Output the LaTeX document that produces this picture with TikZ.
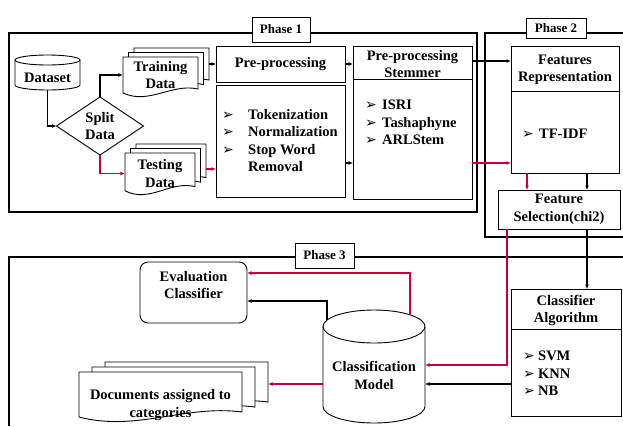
\documentclass[tikz,border=0pt]{standalone}
\usepackage{fontspec}
\setmainfont{Liberation Serif}
\newfontfamily\arrowfont{DejaVu Sans}
\usetikzlibrary{shapes.geometric,arrows.meta}
\definecolor{linkred}{RGB}{200,0,55}

% punkt i en liste
\newcommand{\itm}[1][17pt]{\makebox[#1][l]{\arrowfont\fontsize{14}{14}\selectfont ➢}}
% et ark med boelget bund: x, y (oeverst venstre), bredde, hoejde
\newcommand{\sheet}[4]{%
  \draw[box] ({#1},{#2}) -- ++(#3,0) -- ++(0,{-0.8*#4})
    .. controls +({-0.35*#3},{0.15*#4}) and +({0.35*#3},{-0.3*#4}) .. ({#1},{#2-0.9*#4}) -- cycle;}
% tre ark i en stak: x, y, bredde, hoejde, dx, dy
\newcommand{\sheets}[6]{%
  \sheet{#1+2*#5}{#2+2*#6}{#3}{#4}
  \sheet{#1+#5}{#2+#6}{#3}{#4}
  \sheet{#1}{#2}{#3}{#4}}

\tikzset{
  txt/.style={font=\bfseries\fontsize{14.5}{17.5}\selectfont, align=center, inner sep=0},
  box/.style={draw, line width=0.9pt, fill=white, inner sep=0, outer sep=0},
  frame/.style={line width=1.1pt},
  phase/.style={draw, line width=0.9pt, fill=white, inner sep=0, font=\bfseries\fontsize{13}{15}\selectfont},
  arr/.style={line width=1.2pt, -{Latex[length=4.5pt,width=4pt]}},
  redarr/.style={arr, linkred},
}

\begin{document}
\begin{tikzpicture}[x=1pt,y=1pt]
  \useasboundingbox (0,0) rectangle (623,-426);

  %rammer for faserne
  	\draw[frame] (9,-33) rectangle (477,-212);
  	\draw[frame] (623,-33) -- (485,-33) -- (485,-237) -- (623,-237);
  	\draw[frame] (623,-257) -- (9,-257) -- (9,-426);
  	\node[phase, minimum width=58, minimum height=25] (ph1) at (281,-29.5) {Phase 1};
  	\node[phase, minimum width=60, minimum height=20] (ph2) at (556,-28) {Phase 2};
  	\node[phase, minimum width=59, minimum height=25] (ph3) at (324.5,-255.5) {Phase 3};

  %dataset og opdeling
  	\node[outer sep=0, inner sep=0, minimum width=65, minimum height=35] (dataset) at (47.5,-72.5) {};
  	\draw[box] ([yshift=-5]dataset.north west) -- ([yshift=5]dataset.south west)
  	  arc[start angle=180, end angle=360, x radius=32.5, y radius=5] -- ([yshift=-5]dataset.north east);
  	\draw[box] ([yshift=-5]dataset.north) ellipse[x radius=32.5, y radius=5];
  	\node[txt] (datatxt) at (47.5,-78) {Dataset};
  	\node[box, txt, diamond, aspect=1.5, minimum width=87, minimum height=58] (split) at (100,-126) {Split\\Data};

  %traenings- og testdata
  	\sheets{123}{-57}{75}{40}{5.5}{4.5}
  	\node[txt, minimum width=75] (train) at (160.5,-75) {Training\\Data};
  	\sheets{125}{-153}{70}{42}{5.5}{4.5}
  	\node[txt, minimum width=70] (test) at (160,-173.5) {Testing\\Data};

  %fase 1
  	\node[box, txt, minimum width=129, minimum height=36] (prep) at (280.5,-64) {Pre-processing};
  	\node[box, minimum width=129, minimum height=112] (norm) at (280.5,-141) {};
  	\node[txt, align=left, anchor=north west] (normlist) at (222,-109)
  	  {\itm[26pt]Tokenization\\ \itm[26pt]Normalization\\ \itm[26pt]Stop Word\\ \hspace*{26pt}Removal};
  	\node[box, minimum width=119, minimum height=153] (stem) at (412.5,-122.5) {};
  	\draw[line width=0.9pt] ([yshift=-33]stem.north west) -- ([yshift=-33]stem.north east);
  	\node[txt] (stemhead) at (412.5,-64) {Pre-processing\\Stemmer};
  	\node[txt, align=left, anchor=north west] (stemlist) at (365,-100) {\itm ISRI\\ \itm Tashaphyne\\ \itm ARLStem};

  %fase 2
  	\node[box, minimum width=108, minimum height=127] (featrep) at (565,-109.5) {};
  	\draw[line width=0.9pt] ([yshift=-45]featrep.north west) -- ([yshift=-45]featrep.north east);
  	\node[txt] (feathead) at (565,-70) {Features\\Representation};
  	\node[txt, align=left, anchor=north west] (featlist) at (522,-129) {\itm TF-IDF};
  	\node[box, txt, minimum width=122, minimum height=39] (featsel) at (559,-209.5) {Feature\\Selection(chi2)};

  %fase 3
  	\node[box, minimum width=110, minimum height=127] (classalg) at (566,-352.5) {};
  	\draw[line width=0.9pt] ([yshift=-40]classalg.north west) -- ([yshift=-40]classalg.north east);
  	\node[txt] (classhead) at (566,-310.5) {Classifier\\Algorithm};
  	\node[txt, align=left, anchor=north west] (classlist) at (523,-351) {\itm[15pt]SVM\\ \itm[15pt]KNN\\ \itm[15pt]NB};

  	\node[outer sep=0, inner sep=0, minimum width=102, minimum height=113] (model) at (374,-366.5) {};
  	\draw[box] ([yshift=-16.5]model.north west) -- ([yshift=16.5]model.south west)
  	  arc[start angle=180, end angle=360, x radius=51, y radius=16.5] -- ([yshift=-16.5]model.north east);
  	\draw[box] ([yshift=-16.5]model.north) ellipse[x radius=51, y radius=16.5];
  	\node[txt] (modeltxt) at (374,-375.5) {Classification\\Model};

  	\node[box, rounded corners=8pt, minimum width=107, minimum height=61] (eval) at (193.5,-292.5) {};
  	\node[txt] (evaltxt) at (193.5,-285) {Evaluation\\Classifier};

  	\sheets{79}{-372}{163}{50}{13}{5}
  	\node[txt, minimum width=163] (docs) at (160.5,-405) {Documents assigned to\\categories};

  %forbindelser
  	\draw[arr] (dataset.south) |- (split.west);
  	\draw[arr] (split.north) |- (train.west);
  	\draw[redarr] (split.south) |- (test.west);
  	\coordinate (trainout) at (209,-64);
  	\draw[arr] (trainout) -- (prep.west);
  	\coordinate (testout) at (206,-169);
  	\draw[redarr] (testout) -- (testout -| norm.west);
  	\draw[arr] (prep.east) -- (prep.east -| stem.west);
  	\draw[arr] ([yshift=-22]norm.east) -- ([yshift=-22]norm.east -| stem.west);
  	\draw[arr] ([yshift=61.5]stem.east) -- ([yshift=61.5]stem.east -| featrep.west);
  	\draw[redarr] ([yshift=-40.5]stem.east) -- ([yshift=-40.5]stem.east -| featrep.west);
  	\draw[redarr] ([xshift=-38]featrep.south) -- ([xshift=-38]featrep.south |- featsel.north);
  	\draw[arr] ([xshift=22]featrep.south) -- ([xshift=22]featrep.south |- featsel.north);
  	\draw[redarr] ([xshift=-52]featsel.south) |- ([yshift=1.5]model.east);
  	\draw[arr] ([xshift=28]featsel.south) -- ([xshift=28]featsel.south |- classalg.north);
  	\draw[arr] ([yshift=-31.5]classalg.west) -- ([yshift=-31.5]classalg.west -| model.east);
  	\coordinate (mtopr) at (410,-315);
  	\draw[redarr] (mtopr) |- ([yshift=19.5]eval.east);
  	\coordinate (mtopl) at (327,-320);
  	\draw[arr] (mtopl) |- ([yshift=-8.5]eval.east);
  	\coordinate (docsout) at (268,-384);
  	\draw[redarr] ([yshift=-17.5]model.west) -- (docsout);
\end{tikzpicture}
\end{document}
